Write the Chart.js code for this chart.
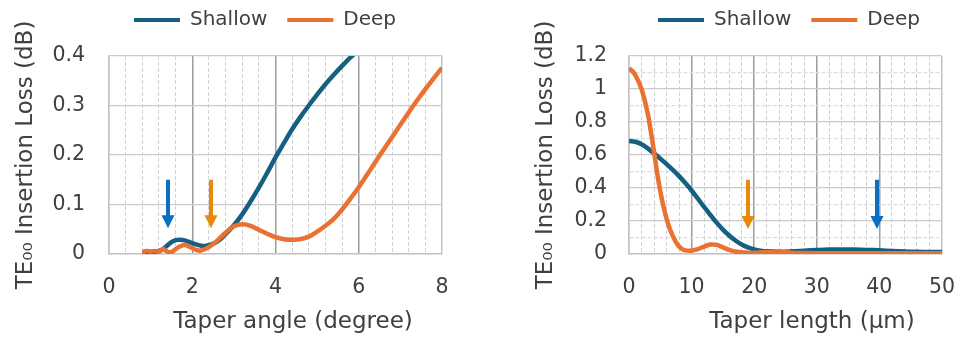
<!DOCTYPE html>
<html><head><meta charset="utf-8">
<script src="https://cdn.jsdelivr.net/npm/chart.js@4.4.0/dist/chart.umd.min.js"></script>
<style>
html,body{margin:0;padding:0;background:#fff;}
#wrap{position:relative;width:976px;height:340px;overflow:hidden;background:#fff;}
canvas{position:absolute;top:0;}
#c1{left:0}
#c2{left:488px}
</style></head><body>
<div id="wrap"><canvas id="c1" width="488" height="340"></canvas><canvas id="c2" width="488" height="340"></canvas></div>
<script>
// ---------- data: left chart (taper angle) ----------
const angleShallowX = [0.8,1.0,1.2,1.3,1.4,1.5,1.6,1.7,1.8,1.9,2.0,2.2,2.3,2.4,2.6,2.8,3.0,3.2,3.4,3.6,3.8,4.0,4.2,4.4,4.6,4.8,5.0,5.2,5.4,5.6,5.8,6.0];
const angleShallowY = [0.003,0.004,0.006,0.010,0.017,0.024,0.028,0.029,0.028,0.025,0.022,0.017,0.016,0.018,0.025,0.040,0.058,0.080,0.106,0.134,0.164,0.195,0.224,0.252,0.277,0.300,0.322,0.343,0.362,0.380,0.397,0.413];
const angleDeepX = [0.8,0.9,1.0,1.1,1.2,1.3,1.4,1.5,1.6,1.7,1.8,1.9,2.0,2.1,2.2,2.4,2.6,2.8,3.0,3.2,3.4,3.6,3.8,4.0,4.2,4.4,4.6,4.8,5.0,5.2,5.4,5.6,5.8,6.0,6.2,6.4,6.6,6.8,7.0,7.2,7.4,7.6,7.8,8.0];
const angleDeepY = [0.004,0.006,0.005,0.006,0.005,0.010,0.005,0.004,0.010,0.015,0.018,0.016,0.012,0.008,0.007,0.014,0.027,0.043,0.056,0.060,0.057,0.049,0.041,0.034,0.030,0.029,0.030,0.035,0.045,0.057,0.071,0.090,0.112,0.135,0.160,0.186,0.211,0.236,0.261,0.286,0.310,0.333,0.355,0.376];
const angleXLabels = ['0','2','4','6','8'];
const angleYLabels = ['0','0.1','0.2','0.3','0.4'];
const angleArrowX = [1.42, 2.44];
const angleArrowFrom = [0.15, 0.15];
const angleArrowTo = [0.052, 0.052];

// ---------- data: right chart (taper length) ----------
const lengthShallowX = [0,1,2,3,4,5,6,7,8,9,10,11,12,13,14,15,16,17,18,19,20,21,22,24,26,28,30,32,34,36,38,40,42,44,46,48,50];
const lengthShallowY = [0.685,0.68,0.665,0.64,0.61,0.578,0.545,0.51,0.472,0.43,0.385,0.335,0.285,0.237,0.19,0.148,0.112,0.082,0.058,0.04,0.028,0.02,0.016,0.014,0.016,0.02,0.024,0.027,0.028,0.027,0.025,0.022,0.018,0.015,0.013,0.012,0.012];
const lengthDeepX = [0,0.5,1,2,3,3.5,4,4.5,5,5.5,6,6.5,7,7.5,8,8.5,9,10,11,12,13,14,15,16,17,18,19,20,22,24,26,28,30,35,40,45,50];
const lengthDeepY = [1.125,1.11,1.085,1.0,0.85,0.74,0.62,0.49,0.38,0.29,0.215,0.155,0.11,0.072,0.045,0.03,0.022,0.02,0.03,0.045,0.057,0.055,0.04,0.025,0.015,0.01,0.007,0.007,0.012,0.012,0.008,0.006,0.005,0.005,0.005,0.005,0.005];
const lengthXLabels = ['0','10','20','30','40','50'];
const lengthYLabels = ['0','0.2','0.4','0.6','0.8','1','1.2'];
const lengthArrowX = [19.0, 39.7];
const lengthArrowFrom = [0.45, 0.45];
const lengthArrowTo = [0.152, 0.152];

const seriesNames = ['Shallow','Deep'];
const yTitle = 'TE\u2080\u2080 Insertion Loss (dB)';
const xTitleLeft = 'Taper angle (degree)';
const xTitleRight = 'Taper length (\u03bcm)';

// ---------- styles ----------
const BLUE = '#156082', ORANGE = '#E97132';
const ARROW_BLUE = '#0A6FC2', ARROW_ORANGE = '#E8890C';
const TEXT = '#404040';
const FONT = 'DejaVu Sans';

const pts = (xs, ys) => xs.map((x, i) => ({x, y: ys[i]}));

const arrowPlugin = {
  id: 'arrows',
  afterDatasetsDraw(chart, args, opts) {
    const {ctx} = chart; const xs = chart.scales.x, ys = chart.scales.y;
    (opts.items || []).forEach(a => {
      const px = Math.round(xs.getPixelForValue(a.x));
      const y0 = ys.getPixelForValue(a.from), y1 = ys.getPixelForValue(a.to);
      ctx.save();
      ctx.fillStyle = a.color; ctx.strokeStyle = a.color; ctx.lineWidth = 4;
      ctx.beginPath(); ctx.moveTo(px, y0); ctx.lineTo(px, y1 - 12); ctx.stroke();
      ctx.beginPath(); ctx.moveTo(px - 6.5, y1 - 13); ctx.lineTo(px + 6.5, y1 - 13); ctx.lineTo(px, y1); ctx.closePath(); ctx.fill();
      ctx.restore();
    });
  }
};
const boxShift = {
  id: 'boxShift',
  afterLayout(chart, args, opts) {
    const l = chart.legend;
    if (l) { l.left += opts.legendDx; l.right += opts.legendDx; l.top += opts.legendDy; l.bottom += opts.legendDy; }
    const t = chart.titleBlock;
    if (t) { t.left += opts.titleDx; t.right += opts.titleDx; }
  }
};
const isMult = (v, m) => Math.abs(v / m - Math.round(v / m)) < 1e-6;

function makeChart(id, cfg) {
  const xMajor = cfg.xMajor, yMajor = cfg.yMajor;
  return new Chart(document.getElementById(id), {
    type: 'line',
    data: {
      datasets: [
        {label: seriesNames[0], data: pts(cfg.sx, cfg.sy), borderColor: BLUE, backgroundColor: BLUE, borderWidth: 4.5, pointRadius: 0, tension: 0.4, fill: false, order: 1},
        {label: seriesNames[1], data: pts(cfg.dx, cfg.dy), borderColor: ORANGE, backgroundColor: ORANGE, borderWidth: 4.5, pointRadius: 0, tension: 0.4, fill: false, order: 0}
      ]
    },
    options: {
      responsive: false, animation: false, devicePixelRatio: 1,
      layout: {padding: {top: 6, right: cfg.padRight, left: 0, bottom: 0}},
      plugins: {
        tooltip: {enabled: false},
        legend: {
          position: 'top',
          labels: {
            color: TEXT, font: {family: FONT, size: 20}, boxWidth: 46, boxHeight: 4, padding: 20,
            sort: (a, b) => a.datasetIndex - b.datasetIndex,
            generateLabels: (chart) => Chart.defaults.plugins.legend.labels.generateLabels(chart).map(l => Object.assign(l, {lineWidth: 0}))
          }
        },
        title: {display: true, position: 'bottom', text: cfg.xTitle, color: TEXT, font: {family: FONT, size: 23, weight: 'normal'}, padding: {top: 0, bottom: 4}},
        boxShift: {legendDx: cfg.legendDx, legendDy: -16, titleDx: cfg.titleDx},
        arrows: {items: cfg.arrows}
      },
      scales: {
        x: {
          type: 'linear', min: cfg.xMin, max: cfg.xMax,
          afterFit: s => { s.height = 54.4; },
          ticks: {
            stepSize: cfg.xStep, autoSkip: false, maxRotation: 0, padding: 21,
            color: TEXT, font: {family: FONT, size: 20.5},
            callback: v => isMult(v, xMajor) ? cfg.xLabels[Math.round(v / xMajor)] : ''
          },
          grid: {
            drawTicks: false,
            color: c => { const v = c.tick ? c.tick.value : 0; if (v <= cfg.xMin + 1e-9 || v >= cfg.xMax - 1e-9) return '#c4c4c4'; return isMult(v, xMajor) ? '#9c9c9c' : '#d2d2d2'; },
            lineWidth: c => { const v = c.tick ? c.tick.value : 0; return isMult(v, xMajor) ? 1.5 : 1; }
          },
          border: {display: true, color: '#c4c4c4', width: 1.5,
            dash: c => (c.tick && !isMult(c.tick.value, xMajor)) ? [4, 2] : []}
        },
        y: {
          type: 'linear', min: 0, max: cfg.yMax,
          afterFit: s => { s.width = cfg.yWidth; },
          ticks: {
            stepSize: cfg.yStep, autoSkip: false, padding: cfg.yTickPad,
            color: TEXT, font: {family: FONT, size: 20.5},
            callback: v => isMult(v, yMajor) ? cfg.yLabels[Math.round(v / yMajor)] : ''
          },
          grid: {
            drawTicks: false,
            color: c => { const v = c.tick ? c.tick.value : 0; return isMult(v, yMajor) ? '#cbcbcb' : '#dcdcdc'; },
            lineWidth: 1.2
          },
          border: {display: true, color: '#c4c4c4', width: 1.5,
            dash: c => (c.tick && !isMult(c.tick.value, yMajor)) ? [4, 2] : []},
          title: {display: true, text: yTitle, color: TEXT, font: {family: FONT, size: 23}, padding: {top: cfg.yTitlePad, bottom: 0}}
        }
      }
    },
    plugins: [arrowPlugin, boxShift]
  });
}

makeChart('c1', {
  sx: angleShallowX, sy: angleShallowY, dx: angleDeepX, dy: angleDeepY,
  xMin: 0, xMax: 8, xStep: 0.4, xMajor: 2, xLabels: angleXLabels,
  yMax: 0.4, yStep: 0.1, yMajor: 0.1, yLabels: angleYLabels,
  xTitle: xTitleLeft, padRight: 46, yWidth: 109, yTickPad: 24, yTitlePad: 12, legendDx: 44, titleDx: 72,
  arrows: angleArrowX.map((x, i) => ({x, from: angleArrowFrom[i], to: angleArrowTo[i], color: i === 0 ? ARROW_BLUE : ARROW_ORANGE}))
});
makeChart('c2', {
  sx: lengthShallowX, sy: lengthShallowY, dx: lengthDeepX, dy: lengthDeepY,
  xMin: 0, xMax: 50, xStep: 2, xMajor: 10, xLabels: lengthXLabels,
  yMax: 1.2, yStep: 0.1, yMajor: 0.2, yLabels: lengthYLabels,
  xTitle: xTitleRight, padRight: 16, yWidth: 141, yTickPad: 22, yTitlePad: 44, legendDx: 65, titleDx: 88,
  arrows: lengthArrowX.map((x, i) => ({x, from: lengthArrowFrom[i], to: lengthArrowTo[i], color: i === 0 ? ARROW_ORANGE : ARROW_BLUE}))
});
</script>
</body></html>
